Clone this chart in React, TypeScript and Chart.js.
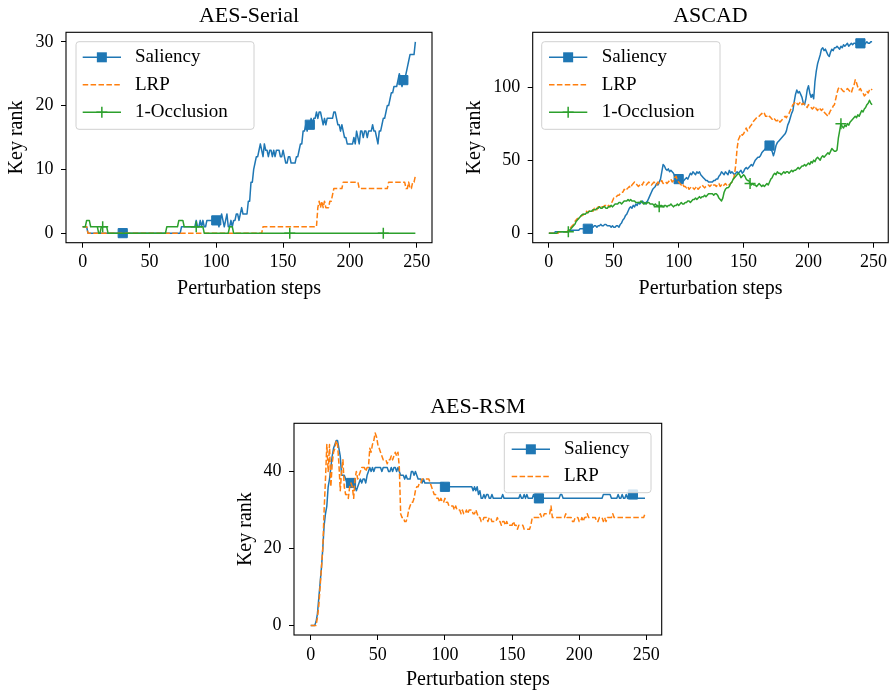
import React, { useEffect, useRef } from "react";
import { Chart, registerables } from "chart.js";
Chart.register(...registerables);

const SERIF = '"Liberation Serif", "DejaVu Serif", serif';
const BLUE = "#1f77b4";
const ORANGE = "#ff7f0e";
const GREEN = "#2ca02c";

// x axis: perturbation steps 0..249
const steps = Array.from({ length: 250 }, (_, i) => i);
const xTicks = [0, 50, 100, 150, 200, 250];
const yTicksSerial = [0, 10, 20, 30];
const yTicksAscad = [0, 50, 100];
const yTicksRsm = [0, 20, 40];
const squareMarkSteps = [30, 100, 170, 240];
const crossMarkSteps = [15, 85, 155, 225];

// ---------- AES-Serial ----------
const serialSaliency = [
  1,1,1,1,0,0,0,0,0,0,
  0,0,0,0,0,0,0,0,0,0,
  0,0,0,0,0,0,0,0,0,0,
  0,0,0,0,0,0,0,0,0,0,
  0,0,0,0,0,0,0,0,0,0,
  0,0,0,0,0,0,0,0,0,0,
  0,0,0,0,0,0,0,0,0,0,
  0,0,0,0,1,1,1,1,1,1,
  1,1,1,1,1,2,1,1,2,1,
  2,1,1,2,2,2,2,2,2,2,
  2,2,1,2,3,2,1,2,3,1,
  1,2,1,2,2,3,3,2,3,4,
  3,3,3,3,5,5,8,8,10,11,
  12,12,13,14,13,12,14,13,13,12,
  13,13,12,13,12,13,13,13,12,12,
  13,12,11,11,12,12,11,11,11,11,
  12,12,13,14,14,16,16,17,16,17,
  17,18,17,18,18,19,18,19,19,18,
  17,18,17,18,18,18,18,18,19,19,
  18,17,17,16,17,16,15,15,14,14,
  14,14,14,15,14,16,15,14,16,16,
  15,16,16,15,16,16,16,17,16,16,
  15,14,16,16,17,18,18,19,20,20,
  21,22,22,23,23,23,24,25,24,23,
  24,24,25,26,27,28,28,28,28,30,
];
const serialLrp = [
  1,1,1,1,0,0,0,0,0,0,
  0,0,0,0,0,0,0,0,0,0,
  0,0,0,0,0,0,0,0,0,0,
  0,0,0,0,0,0,0,0,0,0,
  0,0,0,0,0,0,0,0,0,0,
  0,0,0,0,0,0,0,0,0,0,
  0,0,0,0,0,0,0,0,0,0,
  0,0,0,0,0,0,0,0,0,0,
  0,0,0,0,0,0,0,0,0,0,
  0,0,0,0,0,0,0,0,0,0,
  0,0,0,0,0,0,0,0,0,0,
  0,0,0,0,0,0,0,0,0,0,
  0,0,0,0,0,0,0,0,0,0,
  0,0,0,0,0,1,1,1,1,1,
  1,1,1,1,1,1,1,1,1,1,
  1,1,1,1,1,1,1,1,1,1,
  1,1,1,1,1,1,1,1,1,1,
  1,1,1,1,1,1,4,5,4,5,
  4,5,4,4,4,5,5,6,7,7,
  7,7,7,7,7,8,8,8,8,8,
  8,8,8,8,8,8,8,7,7,7,
  7,7,7,7,7,7,7,7,7,7,
  7,7,7,7,7,7,7,7,7,8,
  8,8,8,8,8,8,8,8,8,8,
  8,8,7,7,8,7,7,8,8,9,
];
const serialOcclusion = [
  1,1,1,2,2,2,1,1,1,1,
  1,1,0,0,1,1,1,1,1,0,
  0,0,0,0,0,0,0,0,0,0,
  0,0,0,0,0,0,0,0,0,0,
  0,0,0,0,0,0,0,0,0,0,
  0,0,0,0,0,0,0,0,0,0,
  0,0,0,1,1,1,1,1,1,1,
  1,1,2,2,2,2,1,1,1,1,
  1,1,1,1,1,1,1,1,1,1,
  1,0,0,0,0,0,0,0,0,0,
  0,0,0,0,0,0,0,0,0,0,
  1,1,1,0,0,0,0,0,0,0,
  0,0,0,0,0,0,0,0,0,0,
  0,0,0,0,0,0,0,0,0,0,
  0,0,0,0,0,0,0,0,0,0,
  0,0,0,0,0,0,0,0,0,0,
  0,0,0,0,0,0,0,0,0,0,
  0,0,0,0,0,0,0,0,0,0,
  0,0,0,0,0,0,0,0,0,0,
  0,0,0,0,0,0,0,0,0,0,
  0,0,0,0,0,0,0,0,0,0,
  0,0,0,0,0,0,0,0,0,0,
  0,0,0,0,0,0,0,0,0,0,
  0,0,0,0,0,0,0,0,0,0,
  0,0,0,0,0,0,0,0,0,0,
];

// ---------- ASCAD ----------
const ascadSaliency = [
  0,0,0,0,0,1,1,1,1,1,
  1,1,1,1,1,1,2,2,2,2,
  2,2,2,2,3,3,3,3,3,3,
  3,4,4,4,4,5,5,4,5,5,
  6,5,5,6,6,5,5,5,4,5,
  4,4,5,5,4,6,7,9,10,12,
  13,15,17,18,17,19,18,20,19,21,
  20,21,22,21,20,21,22,24,26,28,
  30,31,32,34,33,35,37,42,47,46,
  44,43,44,42,43,42,41,39,38,38,
  37,36,37,35,36,37,38,37,39,41,
  40,42,41,40,42,41,42,40,39,38,
  37,36,36,35,35,35,35,36,36,37,
  37,39,40,42,41,40,42,41,40,43,
  41,42,41,40,41,42,41,42,43,41,
  42,44,45,44,45,46,47,46,48,50,
  51,52,52,53,55,56,57,58,59,58,
  60,57,56,53,56,60,62,63,64,65,
  66,67,68,70,74,76,79,82,84,90,
  95,98,96,97,95,93,89,88,92,98,
  101,96,93,95,92,104,111,116,119,122,
  126,127,125,126,124,122,121,124,126,125,
  127,127,128,127,126,128,127,129,128,129,
  130,128,129,130,129,130,130,129,130,131,
  130,129,130,129,130,131,130,130,131,131,
];
const ascadLrp = [
  0,0,0,0,0,0,0,0,1,1,
  1,1,1,1,1,2,3,4,5,6,
  8,9,10,10,11,12,12,13,14,15,
  14,15,16,16,15,17,17,16,18,18,
  17,18,18,19,19,18,19,18,20,22,
  24,24,25,26,26,27,28,28,30,29,
  30,31,32,31,33,34,35,34,33,32,
  33,34,33,35,34,33,34,35,34,33,
  34,35,34,33,35,34,35,36,34,35,
  35,34,35,36,37,35,36,38,39,36,
  35,34,33,34,32,32,31,32,30,31,
  32,31,30,31,32,30,31,32,33,32,
  31,32,32,33,32,33,32,33,33,32,
  33,34,32,33,32,33,34,33,34,33,
  34,35,36,40,47,58,64,66,68,67,
  68,70,72,70,71,73,74,76,77,78,
  79,80,80,81,82,81,82,80,80,79,
  80,79,78,79,78,77,77,78,76,77,
  78,79,80,79,81,82,84,86,88,89,
  90,89,88,89,90,88,89,88,87,86,
  88,87,86,85,86,87,85,84,86,85,
  84,85,83,82,81,80,82,84,85,87,
  88,92,96,99,100,99,98,97,97,98,
  99,98,97,96,99,101,105,103,100,98,
  99,97,96,94,95,97,96,98,99,98,
];
const ascadOcclusion = [
  0,0,0,0,0,0,0,1,1,1,
  1,1,1,1,1,1,2,3,4,5,
  6,8,9,10,11,12,13,13,13,14,
  14,15,15,15,16,16,16,17,17,18,
  17,17,18,18,17,17,18,18,19,18,
  19,20,20,20,21,21,20,21,22,22,
  22,23,22,23,22,22,22,21,21,21,
  21,22,21,20,21,20,21,21,20,20,
  20,19,20,19,19,18,19,19,18,19,
  19,18,19,19,20,19,18,19,19,20,
  19,20,21,20,20,21,21,22,22,21,
  22,23,23,24,23,24,25,24,25,25,
  26,25,26,27,27,27,27,26,27,27,
  26,24,23,22,24,28,30,31,31,32,
  34,35,37,38,39,40,41,40,38,39,
  40,39,37,36,36,34,33,34,33,33,
  32,33,34,33,32,33,32,33,34,33,
  35,37,38,40,41,40,42,41,41,40,
  41,42,41,42,42,41,42,43,42,43,
  43,44,45,44,45,46,46,47,46,47,
  48,47,49,48,50,49,51,52,51,50,
  52,53,52,53,54,55,54,56,58,57,
  56,56,57,65,70,75,73,72,74,73,
  75,74,76,77,78,79,80,79,81,80,
  82,84,83,85,86,88,89,91,89,88,
];

// ---------- AES-RSM ----------
const rsmSaliency = [
  0,0,0,0,1,3,7,11,15,20,
  26,29,31,36,38,41,44,46,47,48,
  48,46,44,39,39,39,38,37,37,37,
  37,37,38,36,35,36,37,38,37,38,
  38,37,39,40,41,40,41,40,41,41,
  41,41,41,40,41,41,41,41,40,40,
  41,40,41,41,40,41,40,39,39,39,
  38,39,38,38,38,40,40,39,40,39,
  38,38,38,37,38,37,37,37,37,37,
  37,37,37,37,37,37,37,37,37,37,
  36,36,36,36,36,36,36,36,36,36,
  36,36,36,36,36,36,36,36,36,36,
  36,35,36,35,36,34,35,33,33,34,
  33,34,34,33,33,34,33,33,33,33,
  33,33,33,34,33,33,33,33,33,33,
  33,33,33,33,33,33,34,33,33,34,
  33,34,33,33,33,33,34,33,33,33,
  33,33,33,33,33,33,33,33,33,33,
  33,33,33,33,33,33,34,34,33,33,
  33,33,33,33,33,33,33,33,33,33,
  33,33,33,33,33,33,33,33,33,33,
  33,33,33,33,33,33,33,33,34,34,
  34,34,34,34,33,33,33,33,33,34,
  33,33,34,33,33,34,33,34,34,34,
  34,33,33,33,33,33,33,33,33,33,
];
const rsmLrp = [
  0,0,0,0,0,2,5,10,15,20,
  30,38,47,40,47,36,42,45,46,48,
  47,42,35,40,43,36,34,34,33,36,
  37,36,33,38,40,38,39,40,41,41,
  41,40,41,41,46,45,47,48,50,49,
  47,46,45,44,43,43,43,42,43,43,
  44,43,44,45,44,45,41,29,28,28,
  27,27,28,30,31,32,32,33,35,36,
  36,37,37,38,38,38,38,38,38,37,
  36,35,34,34,33,33,32,33,32,32,
  33,32,32,31,31,31,31,30,31,30,
  30,30,29,30,29,29,30,29,30,30,
  30,29,29,30,29,28,28,27,27,28,
  28,28,27,28,28,27,27,27,27,28,
  27,27,26,27,27,26,27,26,26,26,
  26,27,26,26,25,26,26,26,26,25,
  25,25,25,25,26,28,28,28,28,28,
  28,29,28,28,29,29,29,29,29,31,
  28,28,28,28,28,28,28,28,28,28,
  29,28,28,28,28,27,27,28,28,28,
  27,27,28,27,28,28,29,28,28,28,
  28,28,28,27,27,28,28,28,27,28,
  27,28,28,28,28,29,28,28,28,28,
  28,28,28,28,28,28,28,28,28,28,
  28,28,28,28,28,28,28,28,28,29,
];

type Kind = "sal" | "lrp" | "occ";
type Series = { name: string; values: number[]; kind: Kind };
type Panel = {
  key: string;
  title: string;
  left: number; top: number; width: number; height: number;
  area: { l: number; t: number; r: number; b: number };
  titleBaseline: number;
  yTitleX: number;
  xTitleY: number;
  yTicks: number[];
  series: Series[];
  legend: { x: number; y: number; w: number; h: number; rows: number[]; lx0: number; lx1: number; tx: number };
};

const COLORS: Record<Kind, string> = { sal: BLUE, lrp: ORANGE, occ: GREEN };
const LW = 1.5;
const DASH = [5.5, 2.4];

const panels: Panel[] = [
  {
    key: "serial",
    title: "AES-Serial",
    left: 0, top: 0, width: 445, height: 310,
    area: { l: 66, t: 32.3, r: 432, b: 242.7 },
    titleBaseline: 21.7,
    yTitleX: 16.7,
    xTitleY: 289,
    yTicks: yTicksSerial,
    series: [
      { name: "Saliency", values: serialSaliency, kind: "sal" },
      { name: "LRP", values: serialLrp, kind: "lrp" },
      { name: "1-Occlusion", values: serialOcclusion, kind: "occ" },
    ],
    legend: { x: 76, y: 41.7, w: 178, h: 87.6, rows: [57.3, 84.8, 112.3], lx0: 82.7, lx1: 121, tx: 135 },
  },
  {
    key: "ascad",
    title: "ASCAD",
    left: 460, top: 0, width: 431, height: 310,
    area: { l: 532.7, t: 32.3, r: 888.3, b: 242.7 },
    titleBaseline: 21.7,
    yTitleX: 475,
    xTitleY: 289,
    yTicks: yTicksAscad,
    series: [
      { name: "Saliency", values: ascadSaliency, kind: "sal" },
      { name: "LRP", values: ascadLrp, kind: "lrp" },
      { name: "1-Occlusion", values: ascadOcclusion, kind: "occ" },
    ],
    legend: { x: 541.7, y: 41.7, w: 178.3, h: 87.6, rows: [57.3, 84.8, 112.3], lx0: 549, lx1: 587.3, tx: 601.7 },
  },
  {
    key: "rsm",
    title: "AES-RSM",
    left: 230, top: 390, width: 440, height: 302,
    area: { l: 294, t: 423.3, r: 661.7, b: 635 },
    titleBaseline: 412.7,
    yTitleX: 245.7,
    xTitleY: 680,
    yTicks: yTicksRsm,
    series: [
      { name: "Saliency", values: rsmSaliency, kind: "sal" },
      { name: "LRP", values: rsmLrp, kind: "lrp" },
    ],
    legend: { x: 504.3, y: 432.7, w: 146.7, h: 60, rows: [449.3, 476.5], lx0: 511.7, lx1: 550, tx: 564 },
  },
];

function makeDataset(s: Series) {
  const color = COLORS[s.kind];
  const base: any = {
    label: s.name,
    data: s.values.map((y, i) => ({ x: steps[i], y })),
    borderColor: color,
    backgroundColor: color,
    borderWidth: LW,
    borderJoinStyle: "round",
    tension: 0,
    fill: false,
  };
  if (s.kind === "sal") {
    base.pointStyle = "rect";
    base.pointRadius = (c: any) => (squareMarkSteps.includes(steps[c.dataIndex]) ? 6.5 : 0);
    base.pointBorderWidth = 1;
    base.pointBorderColor = color;
    base.pointBackgroundColor = color;
    base.order = 3;
  } else if (s.kind === "lrp") {
    base.borderDash = DASH;
    base.pointRadius = 0;
    base.order = 2;
  } else {
    base.pointStyle = "cross";
    base.pointRadius = (c: any) => (crossMarkSteps.includes(steps[c.dataIndex]) ? 5.5 : 0);
    base.pointBorderWidth = 1.5;
    base.pointBorderColor = color;
    base.order = 1;
  }
  base.pointHoverRadius = 0;
  return base;
}

function decorPlugin(p: Panel) {
  return {
    id: "decor_" + p.key,
    afterDatasetsDraw(chart: any) {
      const ctx = chart.ctx as CanvasRenderingContext2D;
      const a = chart.chartArea;
      ctx.save();
      ctx.setLineDash([]);
      ctx.strokeStyle = "#000";
      ctx.lineWidth = 1.1;
      ctx.strokeRect(a.left, a.top, a.right - a.left, a.bottom - a.top);

      ctx.fillStyle = "#000";
      ctx.font = `22px ${SERIF}`;
      ctx.textAlign = "center";
      ctx.textBaseline = "alphabetic";
      ctx.fillText(p.title, (a.left + a.right) / 2, p.titleBaseline - p.top);

      const L = p.legend;
      const ox = -p.left;
      const oy = -p.top;
      ctx.beginPath();
      (ctx as any).roundRect(L.x + ox, L.y + oy, L.w, L.h, 3);
      ctx.fillStyle = "rgba(255,255,255,0.8)";
      ctx.fill();
      ctx.strokeStyle = "#d0d0d0";
      ctx.lineWidth = 1;
      ctx.stroke();

      p.series.forEach((s, i) => {
        const y = L.rows[i] + oy;
        const x0 = L.lx0 + ox;
        const x1 = L.lx1 + ox;
        const xc = (x0 + x1) / 2;
        const c = COLORS[s.kind];
        ctx.strokeStyle = c;
        ctx.lineWidth = LW;
        ctx.setLineDash(s.kind === "lrp" ? DASH : []);
        ctx.beginPath();
        ctx.moveTo(x0, y);
        ctx.lineTo(x1, y);
        ctx.stroke();
        ctx.setLineDash([]);
        if (s.kind === "sal") {
          ctx.fillStyle = c;
          ctx.fillRect(xc - 5, y - 5, 10, 10);
        } else if (s.kind === "occ") {
          ctx.lineWidth = 1.5;
          ctx.beginPath();
          ctx.moveTo(xc - 5.5, y);
          ctx.lineTo(xc + 5.5, y);
          ctx.moveTo(xc, y - 5.5);
          ctx.lineTo(xc, y + 5.5);
          ctx.stroke();
        }
        ctx.fillStyle = "#000";
        ctx.font = `19px ${SERIF}`;
        ctx.textAlign = "left";
        ctx.textBaseline = "middle";
        ctx.fillText(s.name, L.tx + ox, y);
      });
      ctx.restore();
    },
  };
}

function PanelChart({ p }: { p: Panel }) {
  const ref = useRef<HTMLCanvasElement | null>(null);
  useEffect(() => {
    const canvas = ref.current;
    if (!canvas) return;
    const all = p.series.flatMap((s) => s.values);
    const ymin = Math.min(...all);
    const ymax = Math.max(...all);
    const ym = (ymax - ymin) * 0.05;
    const xmin = steps[0];
    const xmax = steps[steps.length - 1];
    const xm = (xmax - xmin) * 0.05;
    const tickFont = { family: SERIF, size: 18 };
    const labelFont = { family: SERIF, size: 20 };
    const chart = new Chart(canvas, {
      type: "line",
      data: { datasets: p.series.map(makeDataset) },
      options: {
        responsive: false,
        animation: false,
        devicePixelRatio: 1,
        events: [],
        layout: {
          padding: { top: p.area.t - p.top, right: p.left + p.width - p.area.r, left: 0, bottom: 0 },
        },
        plugins: { legend: { display: false }, tooltip: { enabled: false }, title: { display: false } },
        scales: {
          x: {
            type: "linear",
            bounds: "data",
            min: xmin - xm,
            max: xmax + xm,
            afterBuildTicks: (s: any) => {
              s.ticks = xTicks.map((v) => ({ value: v }));
            },
            afterFit: (s: any) => {
              s.height = p.top + p.height - p.area.b;
            },
            grid: { display: true, drawOnChartArea: false, drawTicks: true, tickLength: 5, tickColor: "#000", tickWidth: 1 },
            border: { display: false },
            ticks: { autoSkip: false, maxRotation: 0, minRotation: 0, padding: 4, color: "#000", font: tickFont },
            title: {
              display: true,
              text: "Perturbation steps",
              color: "#000",
              font: labelFont,
              padding: { top: 0, bottom: Math.max(0, p.top + p.height - p.xTitleY - 12) },
            },
          },
          y: {
            type: "linear",
            bounds: "data",
            min: ymin - ym,
            max: ymax + ym,
            afterBuildTicks: (s: any) => {
              s.ticks = p.yTicks.map((v) => ({ value: v }));
            },
            afterFit: (s: any) => {
              s.width = p.area.l - p.left;
            },
            grid: { display: true, drawOnChartArea: false, drawTicks: true, tickLength: 5, tickColor: "#000", tickWidth: 1 },
            border: { display: false },
            ticks: { autoSkip: false, padding: 7.5, color: "#000", font: tickFont },
            title: {
              display: true,
              text: "Key rank",
              color: "#000",
              font: labelFont,
              padding: { top: Math.max(0, p.yTitleX - p.left - 12), bottom: 0 },
            },
          },
        },
      } as any,
      plugins: [decorPlugin(p)],
    });
    return () => chart.destroy();
  }, [p]);
  return (
    <canvas
      ref={ref}
      width={p.width}
      height={p.height}
      style={{ position: "absolute", left: p.left, top: p.top, width: p.width, height: p.height, display: "block" }}
    />
  );
}

export default function App() {
  return (
    <div style={{ position: "absolute", left: 0, top: 0, width: 891, height: 692, background: "#fff", overflow: "hidden" }}>
      {panels.map((p) => (
        <PanelChart key={p.key} p={p} />
      ))}
    </div>
  );
}
